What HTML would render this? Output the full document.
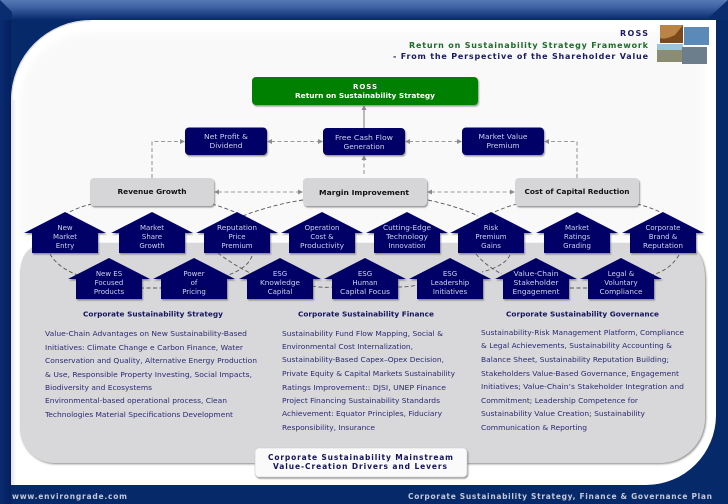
<!DOCTYPE html>
<html><head><meta charset="utf-8"><style>
html,body{margin:0;padding:0;background:#06296a}
svg{display:block}
text{font-family:"DejaVu Sans","Liberation Sans",sans-serif;font-size:7px;fill:#2a2a74}
.h{fill:#ccd0ea;text-anchor:middle;font-size:7px}
.l{font-size:8px;font-weight:bold}
</style></head><body>
<svg width="728" height="504" viewBox="0 0 728 504" xmlns="http://www.w3.org/2000/svg">
<defs>
<linearGradient id="top" x1="0" y1="0" x2="0" y2="1"><stop offset="0" stop-color="#5577b4"/><stop offset=".35" stop-color="#3f62a4"/><stop offset="1" stop-color="#06296a"/></linearGradient>
<linearGradient id="left" x1="0" y1="0" x2="1" y2="0"><stop offset="0" stop-color="#0a2c70"/><stop offset="1" stop-color="#041f5e"/></linearGradient>
<linearGradient id="edge" x1="0" y1="0" x2="1" y2="0"><stop offset="0" stop-color="#e2e2e6"/><stop offset="1" stop-color="#fff"/></linearGradient>
<filter id="s" x="-20%" y="-20%" width="140%" height="150%"><feDropShadow dx="1" dy="1.5" stdDeviation=".8" flood-color="#555" flood-opacity=".6"/></filter>
<filter id="bl" x="-5%" y="-5%" width="110%" height="110%"><feGaussianBlur stdDeviation="3"/></filter>
<filter id="sh" x="-5%" y="-5%" width="110%" height="110%"><feDropShadow dx="1" dy="1" stdDeviation="1" flood-color="#666" flood-opacity=".8"/></filter>
<clipPath id="wp"><path d="M91 20H716V415A70 70 0 0 1 646 485H11V100A80 80 0 0 1 91 20Z"/></clipPath>
<g id="hs"><path d="M0 0L41 21H33V41H-33V21H-41Z" fill="#000066"/></g>
</defs>
<rect width="728" height="504" fill="#06296a"/>
<rect width="11" height="504" fill="url(#left)"/>
<rect y="0" width="728" height="20" fill="url(#top)"/>
<path d="M0 0L12 12V20H0Z" fill="#0a2c70"/>
<path d="M728 0L706 20H728Z" fill="#0b2d70"/>
<rect x="716" y="20" width="12" height="484" fill="#06296a"/>
<path d="M91 20H716V415A70 70 0 0 1 646 485H11V100A80 80 0 0 1 91 20Z" fill="#fff"/>
<g clip-path="url(#wp)">
<path d="M20 100A70 70 0 0 1 91 33H704V238H20Z" fill="#f9f9fa" filter="url(#bl)"/>
<path d="M11 100A80 80 0 0 1 91 20" fill="none" stroke="#dcdce0" stroke-width="2.500"/>
<rect x="11" y="100" width="5" height="385" fill="url(#edge)"/>
</g>
<path d="M50 243H675Q705 243 705 280V418A45 45 0 0 1 660 463H55A35 35 0 0 1 20 428V275Q20 243 50 243Z" fill="#d8d8da" filter="url(#sh)"/>

<!-- image thumbnails -->
<rect x="660" y="25" width="23" height="18" fill="#7a4a1c"/>
<path d="M660 25H683L675 35Q665 40 660 38Z" fill="#b98444"/>
<rect x="684" y="27" width="25" height="18" fill="#5c8ab8"/>
<rect x="657" y="44" width="26" height="18" fill="#8b8d72"/>
<rect x="657" y="44" width="26" height="6" fill="#9cc4dc"/>
<rect x="682" y="47" width="25" height="17" fill="#6c7d8c"/>

<!-- grey dashed connectors -->
<g fill="none" stroke="#9a9a9a" stroke-width="1.1" stroke-dasharray="4 2.5">
<path d="M152 178V141.5H181"/>
<path d="M271 141.5H319"/>
<path d="M409 141.5H458"/>
<path d="M577 178V141.5H548"/>
<path d="M364 174V159"/>
<path d="M218 192H299"/>
<path d="M431 192H511"/>
</g>
<path d="M364 128V109" stroke="#909090" stroke-width="1.2" fill="none"/>
<g fill="#8c8c8c">
<path d="M185 141.5l-5-2.5v5z"/>
<path d="M267 141.5l5-2.5v5z"/><path d="M323 141.5l-5-2.5v5z"/>
<path d="M405 141.5l5-2.5v5z"/><path d="M462 141.5l-5-2.5v5z"/>
<path d="M544 141.5l5-2.5v5z"/>
<path d="M364 105l-2.5 5h5z"/><path d="M364 155l-2.5 5h5z"/>
<path d="M214 192l5-2.5v5z"/><path d="M303 192l-5-2.5v5z"/>
<path d="M427 192l5-2.5v5z"/><path d="M515 192l-5-2.5v5z"/>
</g>

<!-- dark dashed connectors -->
<g fill="none" stroke="#555" stroke-width=".9" stroke-dasharray="4 2.5">
<path d="M92 204Q78 207 66 214"/>
<path d="M212 204Q232 210 250 219"/>
<path d="M303 200Q270 205 240 217"/>
<path d="M428 200Q460 207 478 216"/>
<path d="M517 204Q505 207 490 214"/>
<path d="M637 204Q650 207 662 213"/>
<path d="M50 254Q58 268 80 276"/>
<path d="M218 253Q232 264 252 274"/>
<path d="M252 256Q248 268 226 276"/>
<path d="M140 288H162"/>
<path d="M312 286Q322 288 334 287"/>
<path d="M398 287Q408 287 418 285"/>
<path d="M476 254Q486 266 502 274"/>
<path d="M510 255Q505 266 482 272"/>
<path d="M570 288H590"/>
<path d="M679 255Q670 270 652 275"/>
</g>

<!-- top boxes -->
<rect x="252" y="77" width="226" height="28" rx="4" fill="#058005" filter="url(#s)"/>
<text x="365" y="89" text-anchor="middle" font-weight="bold" style="fill:#fff" textLength="24">ROSS</text>
<text x="365" y="98" text-anchor="middle" font-weight="bold" style="fill:#fff" textLength="140" lengthAdjust="spacingAndGlyphs">Return on Sustainability Strategy</text>

<g filter="url(#s)" fill="#000066">
<rect x="185" y="127.500" width="82" height="27.500" rx="4"/>
<rect x="323" y="128" width="82" height="27" rx="4"/>
<rect x="462" y="127.500" width="82" height="27.500" rx="4"/>
</g>
<g>
<text class="h" x="226" y="139" textLength="44" lengthAdjust="spacingAndGlyphs">Net Profit &amp;</text>
<text class="h" x="226" y="148" textLength="33" lengthAdjust="spacingAndGlyphs">Dividend</text>
<text class="h" x="364" y="140" textLength="58" lengthAdjust="spacingAndGlyphs">Free Cash Flow</text>
<text class="h" x="364" y="149" textLength="41" lengthAdjust="spacingAndGlyphs">Generation</text>
<text class="h" x="503" y="139" textLength="49" lengthAdjust="spacingAndGlyphs">Market Value</text>
<text class="h" x="503" y="148" textLength="33" lengthAdjust="spacingAndGlyphs">Premium</text>
</g>

<g filter="url(#s)" fill="#d6d6d8">
<rect x="90" y="178" width="124" height="28" rx="4"/>
<rect x="303" y="178" width="124" height="28" rx="4"/>
<rect x="515" y="178" width="124" height="28" rx="4"/>
</g>
<g font-weight="bold" text-anchor="middle">
<text x="152" y="194" style="fill:#111" textLength="69" lengthAdjust="spacingAndGlyphs">Revenue Growth</text>
<text x="364" y="195" style="fill:#111" textLength="90" lengthAdjust="spacingAndGlyphs">Margin Improvement</text>
<text x="577" y="194" style="fill:#111" textLength="105" lengthAdjust="spacingAndGlyphs">Cost of Capital Reduction</text>
</g>

<!-- houses -->
<g filter="url(#s)">
<use href="#hs" x="65" y="212"/><use href="#hs" x="152" y="212"/><use href="#hs" x="237" y="212"/><use href="#hs" x="322" y="212"/>
<use href="#hs" x="407" y="212"/><use href="#hs" x="491" y="212"/><use href="#hs" x="577" y="212"/><use href="#hs" x="663" y="212"/>
<use href="#hs" x="109" y="258"/><use href="#hs" x="194" y="258"/><use href="#hs" x="280" y="258"/><use href="#hs" x="365" y="258"/>
<use href="#hs" x="450" y="258"/><use href="#hs" x="536" y="258"/><use href="#hs" x="621" y="258"/>
</g>
<g>
<text class="h" x="65" y="230">New</text><text class="h" x="65" y="239">Market</text><text class="h" x="65" y="248">Entry</text>
<text class="h" x="152" y="230">Market</text><text class="h" x="152" y="239">Share</text><text class="h" x="152" y="248">Growth</text>
<text class="h" x="237" y="230" textLength="40" lengthAdjust="spacingAndGlyphs">Reputation</text><text class="h" x="237" y="239">Price</text><text class="h" x="237" y="248">Premium</text>
<text class="h" x="322" y="230">Operation</text><text class="h" x="322" y="239">Cost &amp;</text><text class="h" x="322" y="248" textLength="44" lengthAdjust="spacingAndGlyphs">Productivity</text>
<text class="h" x="407" y="230" textLength="48" lengthAdjust="spacingAndGlyphs">Cutting-Edge</text><text class="h" x="407" y="239" textLength="42" lengthAdjust="spacingAndGlyphs">Technology</text><text class="h" x="407" y="248" textLength="37" lengthAdjust="spacingAndGlyphs">Innovation</text>
<text class="h" x="491" y="230">Risk</text><text class="h" x="491" y="239">Premium</text><text class="h" x="491" y="248">Gains</text>
<text class="h" x="577" y="230">Market</text><text class="h" x="577" y="239">Ratings</text><text class="h" x="577" y="248">Grading</text>
<text class="h" x="663" y="230">Corporate</text><text class="h" x="663" y="239">Brand &amp;</text><text class="h" x="663" y="248" textLength="40" lengthAdjust="spacingAndGlyphs">Reputation</text>

<text class="h" x="109" y="276">New ES</text><text class="h" x="109" y="285">Focused</text><text class="h" x="109" y="294">Products</text>
<text class="h" x="194" y="276">Power</text><text class="h" x="194" y="285">of</text><text class="h" x="194" y="294">Pricing</text>
<text class="h" x="280" y="276">ESG</text><text class="h" x="280" y="285" textLength="40" lengthAdjust="spacingAndGlyphs">Knowledge</text><text class="h" x="280" y="294">Capital</text>
<text class="h" x="365" y="276">ESG</text><text class="h" x="365" y="285">Human</text><text class="h" x="365" y="294" textLength="50" lengthAdjust="spacingAndGlyphs">Capital Focus</text>
<text class="h" x="450" y="276">ESG</text><text class="h" x="450" y="285">Leadership</text><text class="h" x="450" y="294">Initiatives</text>
<text class="h" x="536" y="276" textLength="45" lengthAdjust="spacingAndGlyphs">Value-Chain</text><text class="h" x="536" y="285" textLength="45" lengthAdjust="spacingAndGlyphs">Stakeholder</text><text class="h" x="536" y="294" textLength="47" lengthAdjust="spacingAndGlyphs">Engagement</text>
<text class="h" x="621" y="276">Legal &amp;</text><text class="h" x="621" y="285">Voluntary</text><text class="h" x="621" y="294" textLength="43" lengthAdjust="spacingAndGlyphs">Compliance</text>
</g>

<!-- header -->
<text class="l" x="620" y="36" style="fill:#1a1a66" textLength="28">ROSS</text>
<text class="l" x="409" y="48" style="fill:#1d6b2a" textLength="239">Return on Sustainability Strategy Framework</text>
<text class="l" x="393" y="59" style="fill:#1a1a66" textLength="255">- From the Perspective of the Shareholder Value</text>

<!-- headings -->
<g font-weight="bold">
<text x="83" y="316.500" style="fill:#14145f" textLength="140" lengthAdjust="spacingAndGlyphs">Corporate Sustainability Strategy</text>
<text x="298" y="316.500" style="fill:#14145f" textLength="136" lengthAdjust="spacingAndGlyphs">Corporate Sustainability Finance</text>
<text x="506" y="316.500" style="fill:#14145f" textLength="153" lengthAdjust="spacingAndGlyphs">Corporate Sustainability Governance</text>
</g>

<!-- body columns -->
<g>
<text x="45" y="336" textLength="202" lengthAdjust="spacingAndGlyphs">Value-Chain Advantages on New Sustainability-Based</text>
<text x="45" y="350" textLength="198" lengthAdjust="spacingAndGlyphs">Initiatives: Climate Change e Carbon Finance, Water</text>
<text x="45" y="363" textLength="212" lengthAdjust="spacingAndGlyphs">Conservation and Quality, Alternative Energy Production</text>
<text x="45" y="377" textLength="207" lengthAdjust="spacingAndGlyphs">&amp; Use, Responsible Property Investing, Social Impacts,</text>
<text x="45" y="390" textLength="107" lengthAdjust="spacingAndGlyphs">Biodiversity and Ecosystems</text>
<text x="45" y="403" textLength="182" lengthAdjust="spacingAndGlyphs">Environmental-based operational process, Clean</text>
<text x="45" y="417" textLength="188" lengthAdjust="spacingAndGlyphs">Technologies Material Specifications Development</text>

<text x="282" y="336" textLength="161" lengthAdjust="spacingAndGlyphs">Sustainability Fund Flow Mapping, Social &amp;</text>
<text x="282" y="349" textLength="131" lengthAdjust="spacingAndGlyphs">Environmental Cost Internalization,</text>
<text x="282" y="362" textLength="162" lengthAdjust="spacingAndGlyphs">Sustainability-Based Capex–Opex Decision,</text>
<text x="282" y="376" textLength="173" lengthAdjust="spacingAndGlyphs">Private Equity &amp; Capital Markets Sustainability</text>
<text x="282" y="390" textLength="164" lengthAdjust="spacingAndGlyphs">Ratings Improvement:: DJSI, UNEP Finance</text>
<text x="282" y="403" textLength="158" lengthAdjust="spacingAndGlyphs">Project Financing Sustainability Standards</text>
<text x="282" y="416" textLength="160" lengthAdjust="spacingAndGlyphs">Achievement: Equator Principles, Fiduciary</text>
<text x="282" y="430" textLength="93" lengthAdjust="spacingAndGlyphs">Responsibility, Insurance</text>

<text x="481" y="335" textLength="203" lengthAdjust="spacingAndGlyphs">Sustainability-Risk Management Platform, Compliance</text>
<text x="481" y="348" textLength="191" lengthAdjust="spacingAndGlyphs">&amp; Legal Achievements, Sustainability Accounting &amp;</text>
<text x="481" y="362" textLength="188" lengthAdjust="spacingAndGlyphs">Balance Sheet, Sustainability Reputation Building;</text>
<text x="481" y="376" textLength="198" lengthAdjust="spacingAndGlyphs">Stakeholders Value-Based Governance, Engagement</text>
<text x="481" y="389" textLength="203" lengthAdjust="spacingAndGlyphs">Initiatives; Value-Chain’s Stakeholder Integration and</text>
<text x="481" y="403" textLength="157" lengthAdjust="spacingAndGlyphs">Commitment; Leadership Competence for</text>
<text x="481" y="416" textLength="164" lengthAdjust="spacingAndGlyphs">Sustainability Value Creation; Sustainability</text>
<text x="481" y="430" textLength="106" lengthAdjust="spacingAndGlyphs">Communication &amp; Reporting</text>
</g>

<!-- label -->
<rect x="255" y="448" width="212" height="29" rx="4" fill="#fafafa" stroke="#ccc" stroke-width=".6" filter="url(#s)"/>
<text x="268" y="460" font-weight="bold" style="fill:#14145f;font-size:7.5px" textLength="185">Corporate Sustainability Mainstream</text>
<text x="273" y="469" font-weight="bold" style="fill:#14145f;font-size:7.5px" textLength="174">Value-Creation Drivers and Levers</text>

<!-- footer -->
<text x="12" y="499" font-weight="bold" style="fill:#c4c8d8;font-size:7.5px" textLength="115">www.environgrade.com</text>
<text x="408" y="499" font-weight="bold" style="fill:#c4c8d8;font-size:7.5px" textLength="304">Corporate Sustainability Strategy, Finance &amp; Governance Plan</text>
</svg>
</body></html>
